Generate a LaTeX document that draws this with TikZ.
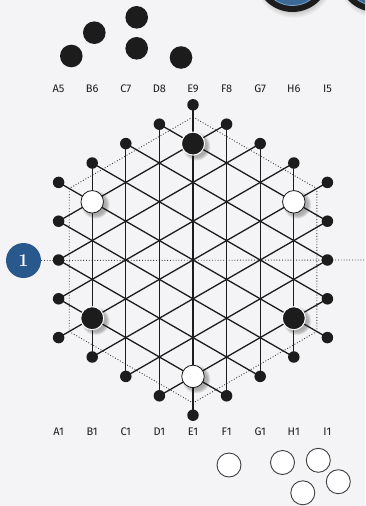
\documentclass[tikz,border=0pt]{standalone}
\usepackage{fontspec}
\newfontfamily\labfont{Fira Sans}
\definecolor{paper}{RGB}{244,244,246}
\definecolor{ink}{RGB}{28,28,28}
\definecolor{badgeblue}{RGB}{40,88,140}
\definecolor{ringblue}{RGB}{120,160,200}
\pgfdeclareradialshading{softshadow}{\pgfpoint{0bp}{0bp}}{color(0bp)=(black!45); color(19bp)=(black!30); color(25bp)=(paper); color(50bp)=(paper)}
\tikzset{
  gridline/.style={draw=ink, line width=1.3pt},
  guide/.style={draw=ink!85, line width=0.9pt, dash pattern=on 0.9pt off 1.9pt},
  enddot/.style={circle, fill=ink, inner sep=0pt, minimum size=11.5pt},
  blackpiece/.style={circle, fill=ink, draw=white, line width=1pt, inner sep=0pt, minimum size=23pt},
  whitepiece/.style={circle, fill=white, draw=ink, line width=0.8pt, inner sep=0pt, minimum size=22.5pt},
  pieceshadow/.style={shading=softshadow},
  stone/.style={circle, fill=ink, inner sep=0pt, minimum size=22.6pt},
  ring/.style={circle, fill=white, draw=ink!85, line width=0.9pt, inner sep=0pt, minimum size=24pt},
  collabel/.style={font=\labfont\fontsize{11}{13}\selectfont, text=ink, inner sep=0pt},
  badge/.style={circle, fill=badgeblue, text=white, inner sep=0pt, minimum size=35pt,
    font=\fontsize{18}{18}\selectfont\bfseries},
}
\begin{document}
\begin{tikzpicture}[x=1pt,y=-1pt]
\useasboundingbox (0,0) rectangle (365,506);
\fill[paper] (0,0) rectangle (365,506);

% lattice coordinates (GIPF naming)
\foreach \L/\c in {A/-4,B/-3,C/-2,D/-1,E/0,F/1,G/2,H/3,I/4} {
  \pgfmathtruncatemacro\n{9-abs(\c)}
  \foreach \j in {1,...,\n} {
    \pgfmathsetmacro\u{-(4-abs(\c)/2)+\j-1}
    \coordinate (\L\j) at ({193+\c*33.6},{260-\u*38.8});
  }
}

% top-right partial discs
\begin{scope}
\clip (0,0) rectangle (365,506);
\foreach \cx in {292.5, 375.5}
  \shade[pieceshadow] (\cx+1,-22) circle (40);
\foreach \nm/\cx in {tl/292.5, tr/375.5} {
  \node[circle, fill=ink, inner sep=0pt, minimum size=75pt] (disc\nm) at (\cx,-25.5) {};
  \node[circle, fill=badgeblue!90!white, draw=ringblue, line width=0.8pt, inner sep=0pt, minimum size=62pt] (core\nm) at (\cx,-25.5) {};
}
\end{scope}

% stones top-left
\node[stone] (s1) at (71.3,56) {};
\node[stone] (s2) at (94.3,32.7) {};
\node[stone] (s3) at (136.7,17.3) {};
\node[stone] (s4) at (136.7,48.3) {};
\node[stone] (s5) at (181,57.5) {};

% badge and guide lines
\node[badge] (one) at (23.5,260.5) {1};
\coordinate (rightend) at (365,260);
\draw[guide] (one.east) -- (rightend);
\draw[guide] (193,117) -- (316.8,188.5) -- (316.8,331.5) -- (193,403) -- (69.2,331.5) -- (69.2,188.5) -- cycle;

% piece shadows (under the grid lines)
\foreach \p in {E8,B2,H2,B5,H5,E2}
  \shade[pieceshadow] ([shift={(3,2.5)}]\p) circle (14.5);

% grid lines
\foreach \p/\q in {B1/B6,C1/C7,D1/D8,E1/E9,F1/F8,G1/G7,H1/H6,
                   A4/F8,A3/G7,A2/H6,A1/I5,B1/I4,C1/I3,D1/I2,
                   D8/I4,C7/I3,B6/I2,A5/I1,A4/H1,A3/G1,A2/F1}
  \draw[gridline] (\p) -- (\q);

% outer dots
\foreach \p in {A1,A2,A3,A4,A5,I1,I2,I3,I4,I5,B1,B6,C1,C7,D1,D8,E1,E9,F1,F8,G1,G7,H1,H6}
  \node[enddot] (d\p) at (\p) {};

% pieces
\node[blackpiece] (pE8) at (E8) {};
\node[blackpiece] (pB2) at (B2) {};
\node[blackpiece] (pH2) at (H2) {};
\node[whitepiece] (pB5) at (B5) {};
\node[whitepiece] (pH5) at (H5) {};
\node[whitepiece] (pE2) at (E2) {};

% labels
\foreach \t [count=\i from 0] in {A5,B6,C7,D8,E9,F8,G7,H6,I5}
  \node[collabel] (top\t) at ({58.6+33.6*\i},89) {\t};
\foreach \t [count=\i from 0] in {A1,B1,C1,D1,E1,F1,G1,H1,I1}
  \node[collabel] (bot\t) at ({58.6+33.6*\i},432) {\t};

% rings bottom-right
\node[ring] (r1) at (229,465) {};
\node[ring] (r2) at (282.5,462.5) {};
\node[ring] (r3) at (318.3,460.3) {};
\node[ring] (r4) at (338.3,481.7) {};
\node[ring] (r5) at (302.8,492.8) {};
\end{tikzpicture}
\end{document}
